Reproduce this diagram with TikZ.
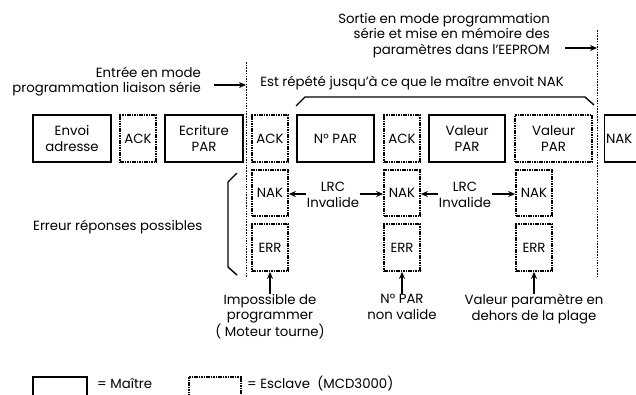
\documentclass[tikz,border=0pt]{standalone}
\usepackage{fontspec}
\setmainfont{Poppins}
\usetikzlibrary{arrows.meta}
\begin{document}
\begin{tikzpicture}[x=1pt,y=-1pt,
  every node/.style={font=\fontsize{13.3}{15.5}\selectfont, inner sep=0pt, align=center},
  master/.style={draw, line width=1.6pt, minimum height=47pt},
  slave/.style={draw, line width=1.7pt, dash pattern=on 1.6pt off 0.8pt, minimum height=47pt},
  sepline/.style={line width=0.9pt, dash pattern=on 1.5pt off 1.2pt},
  arr/.style={line width=1.5pt, -{Stealth[length=7pt,width=6pt]}},
  brk/.style={line width=1.4pt}
]
\useasboundingbox (0,0) rectangle (636,394);
% main row
\node[master, minimum width=78pt] (m1) at (72,138.5) {Envoi\\adresse};
\node[slave, minimum width=36pt] (s1) at (138,138.5) {ACK};
\node[master, minimum width=78pt] (m2) at (204,138.5) {Ecriture\\PAR};
\node[slave, minimum width=36pt] (s2) at (270,138.5) {ACK};
\node[master, minimum width=77pt] (m3) at (335.5,138.5) {N° PAR};
\node[slave, minimum width=36pt] (s3) at (402,138.5) {ACK};
\node[master, minimum width=76pt] (m4) at (467,138.5) {Valeur\\PAR};
\node[slave, minimum width=77pt] (s4) at (553.5,138.5) {Valeur\\PAR};
\node[master, text width=52pt, align=left, inner xsep=1.5pt] (m5) at (632,138.5) {NAK};
% error column
\node[slave, minimum width=36pt, minimum height=46pt] (n1) at (270,193) {NAK};
\node[slave, minimum width=36pt] (e1) at (270,247.5) {ERR};
\node[slave, minimum width=36pt, minimum height=46pt] (n2) at (402,193) {NAK};
\node[slave, minimum width=36pt] (e2) at (402,247.5) {ERR};
\node[slave, minimum width=36pt, minimum height=46pt] (n3) at (534,193) {NAK};
\node[slave, minimum width=36pt] (e3) at (534,247.5) {ERR};
% separators
\coordinate (d1t) at (246,62); \coordinate (d1b) at (246,278);
\coordinate (d2t) at (597,30); \coordinate (d2b) at (597,278);
\draw[sepline] (d1t) -- (d1b);
\draw[sepline] (d2t) -- (d2b);
% entry / exit
\node[anchor=east, align=right] (entree) at (201,81.5) {Entrée en mode\\programmation liaison série};
\coordinate (ea) at (246,85);
\draw[arr] (214,85) -- (ea);
\node[anchor=east, align=right] (sortie) at (550,35.5) {Sortie en mode programmation\\série et mise en mémoire des\\paramètres dans l’EEPROM};
\coordinate (sa) at (597,48);
\draw[arr] (565,48) -- (sa);
% repeat bracket
\node (rep) at (412,83) {Est répété jusqu’à ce que le maître envoit NAK};
\draw[brk] (296,106) -- (305,97) -- (585,97) -- (594,105);
% LRC labels
\node (lrc1) at (333,195) {LRC\\Invalide};
\node (lrc2) at (465,195) {LRC\\Invalide};
\draw[arr] (lrc1.west |- 0,194) ++(-1,0) -- (n1.east |- 0,194);
\draw[arr] (lrc1.east |- 0,194) ++(1,0) -- (n2.west |- 0,194);
\draw[arr] (lrc2.west |- 0,194) ++(-1,0) -- (n2.east |- 0,194);
\draw[arr] (lrc2.east |- 0,194) ++(1,0) -- (n3.west |- 0,194);
% brace
\draw[brk] (237,173) -- (228,182) -- (228,267) -- (237,275);
\node[anchor=west] (err) at (33,227) {Erreur réponses possibles};
% bottom notes
\node[anchor=north] (t1) at (270,294) {Impossible de\\programmer\\( Moteur tourne)};
\node[anchor=north] (t2) at (402,294) {N° PAR\\non valide};
\node[anchor=north] (t3) at (534,294) {Valeur paramètre en\\dehors de la plage};
\draw[arr] (t1.north) -- (e1.south);
\draw[arr] (t2.north) -- (e2.south);
\draw[arr] (t3.north) -- (e3.south);
% legend
\node[master, minimum width=54pt, minimum height=30pt, anchor=north west] (lm) at (32,376) {};
\node[anchor=west] (lmt) at (97,384) {= Maître};
\node[slave, minimum width=52pt, minimum height=30pt, anchor=north west] (ls) at (188,376) {};
\node[anchor=west] (lst) at (247,384) {= Esclave\ \ (MCD3000)};
\end{tikzpicture}
\end{document}
